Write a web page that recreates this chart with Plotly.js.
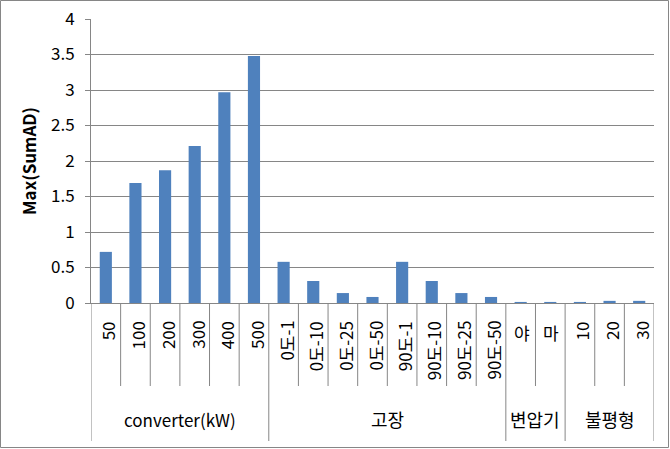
<!DOCTYPE html>
<html>
<head>
<meta charset="utf-8">
<script src="https://cdn.plot.ly/plotly-3.0.1.min.js"></script>
<style>html,body{margin:0;padding:0;background:#fff;}#chart{width:670px;height:449px;}</style>
</head>
<body>
<div id="chart"></div>
<script>
// ---- data ----
const categories = ['50','100','200','300','400','500','0도-1','0도-10','0도-25','0도-50','90도-1','90도-10','90도-25','90도-50','야','마','10','20','30'];
const groupNames = ['converter(kW)','고장','변압기','불평형'];
const groupSizes = [6, 8, 2, 3];
const values = [0.72,1.69,1.87,2.21,2.97,3.48,0.58,0.31,0.14,0.085,0.58,0.31,0.14,0.085,0.015,0.015,0.015,0.03,0.03];
const yTitle = 'Max(SumAD)';

// ---- layout helpers ----
const W = 670, H = 449;
const M = {l: 91, r: 16, t: 19, b: 146};
const plotH = H - M.t - M.b, plotW = W - M.l - M.r;
const py = pix => (H - M.b - pix) / plotH;   // pixel row -> paper y
const px = pix => (pix - M.l) / plotW;       // pixel col -> paper x
const FONT = '"Noto Sans CJK KR", "Malgun Gothic", sans-serif';
const GRID = '#868686';

const idx = categories.map((c, i) => i);
const annotations = [];
const shapes = [];

// category labels
categories.forEach((c, i) => {
  const upright = c.length === 1;
  annotations.push({
    x: i, xref: 'x', y: py(upright ? 318 : 319), yref: 'paper',
    text: c, showarrow: false, textangle: upright ? 0 : -90,
    xanchor: 'center', yanchor: 'top', xshift: upright ? 1 : 2,
    font: {family: FONT, size: 17, color: '#000'}
  });
});

// group labels and dividers
let start = 0;
const groupBounds = [0];
groupNames.forEach((g, k) => {
  const end = start + groupSizes[k];
  annotations.push({
    x: (start + end - 1) / 2, xref: 'x', y: py(419), yref: 'paper',
    text: g, showarrow: false, xanchor: 'center', yanchor: 'middle',
    font: {family: FONT, size: g.charCodeAt(0) > 255 ? 18 : 17, color: '#000'}
  });
  groupBounds.push(end);
  start = end;
});
for (let b = 0; b <= categories.length; b++) {
  const isGroup = groupBounds.includes(b);
  shapes.push({
    type: 'line', xref: 'x', yref: 'paper',
    x0: b - 0.5, x1: b - 0.5, y0: 0, y1: py(isGroup ? 441 : 386),
    line: {color: GRID, width: 1}
  });
}
// chart border
shapes.push({
  type: 'rect', xref: 'paper', yref: 'paper',
  x0: px(0.5), x1: px(W - 1.5), y0: py(H - 1.5), y1: py(0.5),
  line: {color: GRID, width: 1}
});

const trace = {
  type: 'bar', x: idx, y: values,
  marker: {color: '#4F81BD'},
  hoverinfo: 'skip'
};

const layout = {
  width: W, height: H,
  margin: M,
  paper_bgcolor: '#fff', plot_bgcolor: '#fff',
  showlegend: false,
  bargap: 0.59,
  font: {family: FONT, color: '#000'},
  xaxis: {
    type: 'linear', range: [-0.5, categories.length - 0.5],
    showticklabels: false, ticks: '', showgrid: false, zeroline: false,
    showline: true, linecolor: GRID, linewidth: 1, fixedrange: true
  },
  yaxis: {
    range: [0, 4], dtick: 0.5, tick0: 0,
    showgrid: true, gridcolor: GRID, gridwidth: 1,
    zeroline: false, showline: true, linecolor: GRID, linewidth: 1,
    ticks: 'outside', ticklen: 5, tickcolor: GRID,
    ticklabelstandoff: 7,
    tickfont: {family: FONT, size: 17, color: '#000'},
    title: {text: yTitle, font: {family: FONT, size: 17, color: '#000', weight: 'bold'}, standoff: 10},
    automargin: false
  },
  annotations: annotations,
  shapes: shapes
};

Plotly.newPlot('chart', [trace], layout, {staticPlot: true, displayModeBar: false});
</script>
</body>
</html>
